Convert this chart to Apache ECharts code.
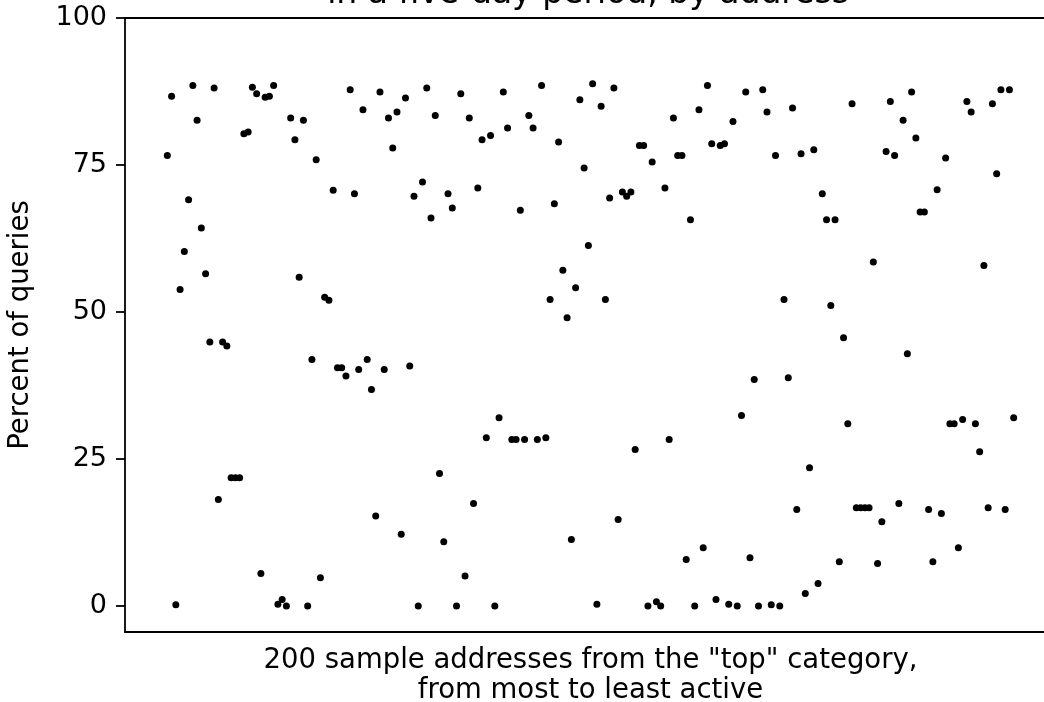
<!DOCTYPE html>
<html>
<head>
<meta charset="utf-8">
<script src="https://cdn.jsdelivr.net/npm/echarts@6/dist/echarts.min.js"></script>
<style>html,body{margin:0;padding:0;background:#fff}#c{width:1044px;height:702px}</style>
</head>
<body>
<div id="c"></div>
<script>
// Percent of queries for 200 sample addresses (ordered most to least active)
const percentQueries = [
  76.6, 86.7, 0.2, 53.8, 60.3, 69.1, 88.5, 82.6, 64.3, 56.5,
  44.9, 88.1, 18.1, 44.9, 44.2, 21.8, 21.8, 21.8, 80.3, 80.6,
  88.2, 87.1, 5.5, 86.5, 86.7, 88.5, 0.3, 1.1, 0.0, 83.0,
  79.3, 55.9, 82.6, 0.0, 41.9, 75.9, 4.8, 52.5, 52.0, 70.7,
  40.5, 40.5, 39.1, 87.8, 70.1, 40.2, 84.4, 41.9, 36.8, 15.3,
  87.4, 40.2, 83.0, 77.9, 84.0, 12.2, 86.4, 40.8, 69.7, 0.0,
  72.1, 88.1, 66.0, 83.4, 22.5, 10.9, 70.1, 67.7, 0.0, 87.1,
  5.1, 83.0, 17.4, 71.1, 79.3, 28.6, 80.0, 0.0, 32.0, 87.4,
  81.3, 28.3, 28.3, 67.3, 28.3, 83.4, 81.3, 28.3, 88.5, 28.6,
  52.1, 68.4, 78.9, 57.1, 49.0, 11.3, 54.1, 86.1, 74.5, 61.3,
  88.8, 0.3, 85.0, 52.1, 69.4, 88.1, 14.7, 70.4, 69.7, 70.4,
  26.6, 78.3, 78.3, 0.0, 75.5, 0.7, 0.0, 71.1, 28.3, 83.0,
  76.6, 76.6, 7.9, 65.7, 0.0, 84.4, 9.9, 88.5, 78.6, 1.1,
  78.3, 78.6, 0.3, 82.4, 0.0, 32.4, 87.4, 8.2, 38.5, 0.0,
  87.8, 84.0, 0.2, 76.6, 0.0, 52.1, 38.8, 84.7, 16.4, 76.9,
  2.1, 23.5, 77.6, 3.8, 70.1, 65.7, 51.1, 65.7, 7.5, 45.6,
  31.0, 85.4, 16.7, 16.7, 16.7, 16.7, 58.5, 7.2, 14.3, 77.3,
  85.8, 76.6, 17.4, 82.6, 42.9, 87.4, 79.6, 67.0, 67.0, 16.4,
  7.5, 70.8, 15.7, 76.2, 31.0, 31.0, 9.9, 31.7, 85.8, 84.0,
  31.0, 26.2, 57.9, 16.7, 85.4, 73.5, 87.8, 16.4, 87.8, 32.0
];
const yTicks = [0, 25, 50, 75, 100];
const titleText = 'in a five-day period, by address';
const xLabel = '200 sample addresses from the "top" category,\nfrom most to least active';
const yLabel = 'Percent of queries';

const points = percentQueries.map((v, i) => [i, v]);
const FONT = 'DejaVu Sans';

const chart = echarts.init(document.getElementById('c'), null, {renderer: 'canvas'});
chart.setOption({
  animation: false,
  backgroundColor: '#fff',
  grid: {left: 125, top: 18, width: 931, height: 614, containLabel: false, outerBoundsMode: 'none'},
  graphic: [{
    type: 'text',
    style: {
      text: titleText, x: 588, y: -6,
      font: '33px "DejaVu Sans"', fill: '#000',
      textAlign: 'center', textVerticalAlign: 'middle'
    }
  }],
  xAxis: [{
    type: 'value', min: -9.95, max: 208.95,
    axisLine: {show: true, onZero: false, lineStyle: {color: '#000', width: 1.8}},
    axisTick: {show: false}, axisLabel: {show: false}, splitLine: {show: false},
    name: xLabel, nameLocation: 'middle', nameGap: 14,
    nameTextStyle: {fontFamily: FONT, fontSize: 27.5, color: '#000', lineHeight: 30, verticalAlign: 'top'}
  }, {
    type: 'value', position: 'top', min: -9.95, max: 208.95,
    axisLine: {show: true, onZero: false, lineStyle: {color: '#000', width: 1.8}},
    axisTick: {show: false}, axisLabel: {show: false}, splitLine: {show: false}
  }],
  yAxis: {
    type: 'value', min: -4.44, max: 100,
    axisLine: {show: true, onZero: false, lineStyle: {color: '#000', width: 1.8}},
    axisTick: {show: true, length: 9, lineStyle: {color: '#000', width: 1.8}, customValues: yTicks},
    axisLabel: {show: true, margin: 18, fontFamily: FONT, fontSize: 27, color: '#000', customValues: yTicks},
    splitLine: {show: false},
    name: yLabel, nameLocation: 'middle', nameGap: 90,
    nameTextStyle: {fontFamily: FONT, fontSize: 27.5, color: '#000'}
  },
  series: [{
    type: 'scatter', data: points, symbol: 'circle', symbolSize: 7,
    itemStyle: {color: '#000', opacity: 1}, xAxisIndex: 0
  }]
});
</script>
</body>
</html>
